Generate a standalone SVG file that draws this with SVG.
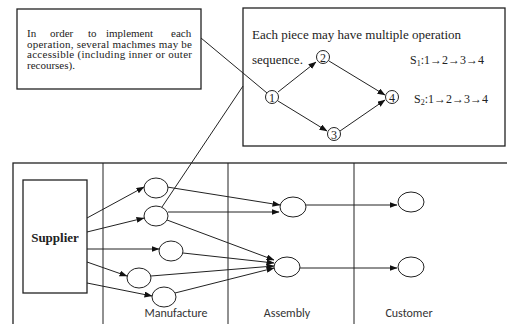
<svg xmlns="http://www.w3.org/2000/svg" width="507" height="324" viewBox="0 0 507 324">
<style>
.box{fill:#fff;stroke:#222;stroke-width:1.3}
.ln{fill:none;stroke:#222;stroke-width:1}
.arr{fill:none;stroke:#222;stroke-width:1;marker-end:url(#ah)}
.el{fill:#fff;stroke:#222;stroke-width:1}
.serif{font-family:"Liberation Serif","Times New Roman",serif;fill:#222}
.sans{font-family:"Carlito","Liberation Sans",Arial,sans-serif;fill:#333;font-size:12px}
</style>
<defs>
<marker id="ah" markerWidth="8" markerHeight="6" refX="7.5" refY="3" orient="auto" markerUnits="userSpaceOnUse">
<path d="M0,0 L8,3 L0,6 Z" fill="#111"/>
</marker>
</defs>
<rect width="507" height="324" fill="#fff"/>

<g id="note-machines">
<rect class="box" x="17" y="9" width="184" height="80"/>
<text class="serif" font-size="11" y="37"><tspan x="27">In</tspan><tspan x="50">order</tspan><tspan x="88">to</tspan><tspan x="106">implement</tspan><tspan x="171">each</tspan></text>
<text class="serif" font-size="11" x="27" y="47.5" textLength="165" lengthAdjust="spacing">operation, several machmes may be</text>
<text class="serif" font-size="11" x="27" y="58" textLength="165" lengthAdjust="spacing">accessible (including inner or outer</text>
<text class="serif" font-size="11" x="27" y="68.5">recourses).</text>
</g>

<g id="note-sequence">
<rect class="box" x="243" y="8" width="262" height="138"/>
<text class="serif" font-size="13" x="252" y="39">Each piece may have multiple operation</text>
<text class="serif" font-size="13" x="252" y="64">sequence.</text>
<text class="serif" font-size="12" x="410" y="64">S<tspan font-size="8" dy="2">1</tspan><tspan dy="-2">:1→2→3→4</tspan></text>
<text class="serif" font-size="12" x="414" y="103">S<tspan font-size="8" dy="2">2</tspan><tspan dy="-2">:1→2→3→4</tspan></text>
</g>

<g id="main-frame">
<rect class="box" x="13" y="163" width="500" height="170"/>
<line class="ln" x1="103" y1="163" x2="103" y2="324"/>
<line class="ln" x1="228" y1="163" x2="228" y2="324"/>
<line class="ln" x1="354" y1="163" x2="354" y2="324"/>
</g>

<g id="connectors">
<line class="ln" x1="201" y1="38" x2="267" y2="93"/>
<line class="ln" x1="162" y1="207" x2="243" y2="86"/>
<line class="arr" x1="278" y1="92" x2="316" y2="62"/>
<line class="arr" x1="278" y1="101" x2="327" y2="131"/>
<line class="arr" x1="329" y1="61" x2="385" y2="95"/>
<line class="arr" x1="340" y1="131" x2="385" y2="100"/>
<line class="arr" x1="87" y1="218" x2="144" y2="187"/>
<line class="arr" x1="87" y1="232" x2="144" y2="218"/>
<line class="arr" x1="87" y1="249" x2="159" y2="249"/>
<line class="arr" x1="87" y1="262" x2="127" y2="276"/>
<line class="arr" x1="87" y1="283" x2="152" y2="296"/>
<line class="arr" x1="167" y1="187" x2="280" y2="205"/>
<line class="arr" x1="168" y1="212" x2="279" y2="212"/>
<line class="arr" x1="167" y1="220" x2="274" y2="260"/>
<line class="arr" x1="183" y1="253" x2="274" y2="263"/>
<line class="arr" x1="151" y1="276" x2="274" y2="266"/>
<line class="arr" x1="175" y1="293" x2="274" y2="268"/>
<line class="arr" x1="306" y1="205" x2="397" y2="205"/>
<line class="arr" x1="300" y1="268" x2="397" y2="268"/>
</g>

<g id="op1"><circle class="el" cx="272" cy="97" r="6.5"/><text class="serif" font-size="12" x="272" y="101.5" text-anchor="middle">1</text></g>
<g id="op2"><circle class="el" cx="323" cy="57" r="6.5"/><text class="serif" font-size="12" x="323" y="61.5" text-anchor="middle">2</text></g>
<g id="op3"><circle class="el" cx="334" cy="134" r="6.5"/><text class="serif" font-size="12" x="334" y="138.5" text-anchor="middle">3</text></g>
<g id="op4"><circle class="el" cx="392" cy="97" r="6.5"/><text class="serif" font-size="12" x="392" y="101.5" text-anchor="middle">4</text></g>

<g id="supplier">
<rect class="box" x="23" y="180" width="64" height="113"/>
<text class="serif" font-size="13" font-weight="bold" x="55" y="242" text-anchor="middle">Supplier</text>
</g>

<g id="m1"><ellipse class="el" cx="156" cy="188" rx="12" ry="10"/></g>
<g id="m2"><ellipse class="el" cx="156" cy="216" rx="12" ry="10"/></g>
<g id="m3"><ellipse class="el" cx="171" cy="251" rx="12" ry="10"/></g>
<g id="m4"><ellipse class="el" cx="139" cy="278" rx="12" ry="10"/></g>
<g id="m5"><ellipse class="el" cx="164" cy="297" rx="12" ry="10"/></g>

<g id="a1"><ellipse class="el" cx="293" cy="207" rx="13" ry="10"/></g>
<g id="a2"><ellipse class="el" cx="287" cy="267" rx="13" ry="10"/></g>

<g id="c1"><ellipse class="el" cx="411" cy="202" rx="13" ry="10"/></g>
<g id="c2"><ellipse class="el" cx="411" cy="267" rx="13" ry="10"/></g>

<g id="labels">
<text class="sans" x="176" y="317" text-anchor="middle">Manufacture</text>
<text class="sans" x="287" y="317" text-anchor="middle">Assembly</text>
<text class="sans" x="409" y="317" text-anchor="middle">Customer</text>
</g>
</svg>
